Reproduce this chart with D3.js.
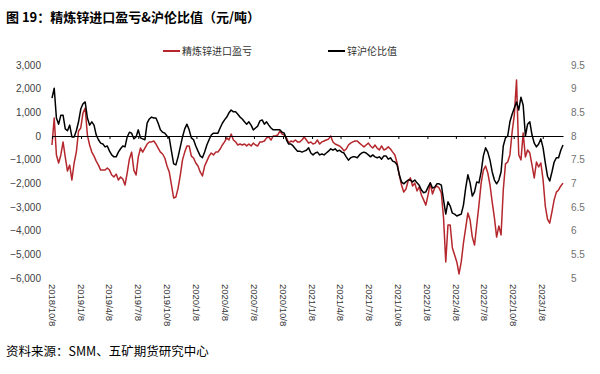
<!DOCTYPE html>
<meta charset="utf-8">
<style>
body { margin: 0; background: #fff; }
svg text { font-family: "Liberation Sans", Arial, sans-serif; }
.cjk { font-family: "Noto Sans CJK SC", sans-serif; }
</style>
<svg width="600" height="374"></svg>
<script src="https://cdn.jsdelivr.net/npm/d3@7"></script>
<script>

// weekly observations starting 2018/10/8
var startDate = "2018-10-08";

// 精炼锌进口盈亏 (元/吨)
var importPnl = [
  -380, 760, -800, -1140, -800, -250, -890, -1480, -1230, -1860,
  -1140, -680, 210, 340, 970, 1180, 40, -380, -680, -850,
  -1060, -1230, -1440, -1440, -1440, -1350, -1440, -1650, -1730, -1610,
  -1860, -1730, -1820, -2070, -1560, -970, -680, -1440, -1650, -890,
  -510, -680, -510, -340, -250, -250, -210, -340, -510, -680,
  -760, -930, -1270, -1520, -2070, -2620, -2580, -2200, -1650, -1010,
  -680, -420, -420, -850, -930, -1140, -1270, -1520, -1690, -1270,
  -1060, -850, -720, -800, -680, -680, -550, -380, -250, -80,
  -170, 80, -170, -250, -380, -340, -380, -340, -420, -340,
  -420, -300, -380, -420, -250, -250, -210, -80, -40, -170,
  0, 0, 40, 210, 80, 40, -80, -300, -210, -250,
  -170, -250, -250, -170, -40, -170, -300, -250, -340, -300,
  -170, -340, -250, -210, -170, -130, 0, -250, -340, -380,
  -420, -510, -630, -550, -380, -300, -250, -210, -210, -300,
  -380, -460, -380, -300, -420, -510, -380, -510, -590, -420,
  -590, -550, -460, -550, -680, -800, -1140, -1650, -2070, -2370,
  -2240, -1900, -1770, -2110, -1990, -2320, -2150, -2490, -2700, -2920,
  -2490, -1990, -2450, -2200, -2110, -2200, -2410, -3460, -5320, -3760,
  -3760, -4730, -5030, -5320, -5830, -5320, -4520, -3890, -3250, -3550,
  -4270, -4610, -3760, -2920, -1990, -1440, -1270, -1560, -2070, -2790,
  -3460, -4270, -3800, -4180, -2280, -1180, -1100, -800, 170, 890,
  2370, -800, -1010, 130, -890, -590, -720, -1230, -1770, -1100,
  -1310, -1140, -1860, -2960, -3510, -3680, -3210, -2700, -2370, -2280,
  -2110, -1990
];

// 锌沪伦比值
var ratio = [
  8.80, 9.01, 8.38, 8.25, 8.44, 8.44, 8.15, 8.11, 8.23, 7.98,
  7.98, 8.11, 8.30, 8.57, 8.68, 8.72, 8.38, 8.23, 8.30, 8.23,
  8.02, 7.92, 7.85, 7.83, 7.77, 7.79, 7.68, 7.60, 7.56, 7.56,
  7.66, 7.73, 7.79, 7.77, 7.98, 8.08, 8.06, 7.94, 7.98, 8.13,
  7.96, 7.94, 7.92, 8.27, 8.36, 8.40, 8.38, 8.38, 8.27, 8.13,
  8.08, 8.06, 8.00, 7.96, 7.68, 7.41, 7.39, 7.56, 7.77, 7.98,
  8.15, 8.25, 8.13, 7.96, 7.92, 7.79, 7.68, 7.58, 7.54, 7.66,
  7.81, 7.92, 8.02, 8.06, 8.06, 8.06, 8.17, 8.27, 8.34, 8.40,
  8.49, 8.55, 8.51, 8.51, 8.46, 8.40, 8.36, 8.30, 8.25, 8.30,
  8.23, 8.13, 8.17, 8.21, 8.32, 8.34, 8.25, 8.30, 8.23, 8.17,
  8.13, 8.13, 8.13, 8.13, 8.08, 8.06, 7.92, 7.83, 7.83, 7.79,
  7.73, 7.68, 7.68, 7.66, 7.68, 7.70, 7.75, 7.64, 7.60, 7.64,
  7.66, 7.60, 7.62, 7.60, 7.64, 7.68, 7.73, 7.70, 7.73, 7.68,
  7.70, 7.66, 7.64, 7.56, 7.49, 7.54, 7.56, 7.56, 7.54, 7.60,
  7.64, 7.66, 7.64, 7.60, 7.56, 7.60, 7.56, 7.54, 7.56, 7.51,
  7.58, 7.58, 7.51, 7.54, 7.47, 7.45, 7.39, 7.18, 7.03, 6.99,
  7.03, 7.07, 7.07, 7.03, 7.07, 7.01, 6.96, 6.86, 6.80, 6.82,
  6.92, 7.01, 6.90, 6.92, 6.99, 6.99, 6.96, 6.65, 6.35, 6.61,
  6.52, 6.37, 6.35, 6.31, 6.33, 6.35, 6.54, 6.90, 7.18, 7.01,
  6.73, 6.82, 7.03, 7.01, 7.24, 7.58, 7.75, 7.66, 7.49, 7.24,
  7.07, 6.99, 7.07, 7.24, 7.79, 7.96, 8.00, 8.30, 8.46, 8.59,
  8.72, 8.55, 8.82, 8.65, 8.00, 8.25, 8.30, 8.02, 7.85, 7.77,
  7.83, 7.94, 7.75, 7.43, 7.15, 7.05, 7.24, 7.45, 7.54, 7.54,
  7.70, 7.81
];

var tickLabels = ["2018/10/8", "2019/1/8", "2019/4/8", "2019/7/8", "2019/10/8",
  "2020/1/8", "2020/4/8", "2020/7/8", "2020/10/8", "2021/1/8", "2021/4/8",
  "2021/7/8", "2021/10/8", "2022/1/8", "2022/4/8", "2022/7/8", "2022/10/8", "2023/1/8"];

var leftTicks = [3000, 2000, 1000, 0, -1000, -2000, -3000, -4000, -5000, -6000];
var rightTicks = [9.5, 9, 8.5, 8, 7.5, 7, 6.5, 6, 5.5, 5];

var svg = d3.select("svg");
var parseIso = d3.timeParse("%Y-%m-%d"),
    parseTick = d3.timeParse("%Y/%m/%d");

var start = parseIso(startDate);
var dates = importPnl.map(function(d, i) { return d3.timeDay.offset(start, 7 * i); });

var x = d3.scaleTime()
    .domain([start, dates[dates.length - 1]])
    .range([52, 563]);
var yL = d3.scaleLinear().domain([-6000, 3000]).range([278, 65]);
var yR = d3.scaleLinear().domain([5, 9.5]).range([278, 65]);

// title
svg.append("text")
    .attr("class", "cjk")
    .attr("x", 6).attr("y", 22)
    .attr("font-size", 13).attr("font-weight", "bold")
    .attr("fill", "#000")
    .text("图 19：精炼锌进口盈亏&沪伦比值（元/吨）");

// legend
var legend = [
  {name: "精炼锌进口盈亏", color: "#b5272d", x: 163},
  {name: "锌沪伦比值", color: "#000", x: 328}
];
legend.forEach(function(l) {
  svg.append("line")
      .attr("x1", l.x).attr("x2", l.x + 17)
      .attr("y1", 51).attr("y2", 51)
      .attr("stroke", l.color).attr("stroke-width", 2);
  svg.append("text")
      .attr("class", "cjk")
      .attr("x", l.x + 19).attr("y", 54.5)
      .attr("font-size", 10).attr("fill", "#333")
      .text(l.name);
});

// left axis labels
var fmt = d3.format(",");
svg.append("g")
    .attr("transform", "translate(43,0)")
    .call(d3.axisLeft(yL).tickValues(leftTicks).tickSize(0).tickPadding(2).tickFormat(fmt))
    .call(function(g) { g.select(".domain").remove(); })
    .selectAll("text")
      .attr("font-size", 10).attr("fill", "#404040")
      .attr("font-family", "Liberation Sans, Arial, sans-serif");

// right axis labels
svg.append("g")
    .attr("transform", "translate(569,0)")
    .call(d3.axisRight(yR).tickValues(rightTicks).tickSize(0).tickPadding(2).tickFormat(d3.format("")))
    .call(function(g) { g.select(".domain").remove(); })
    .selectAll("text")
      .attr("font-size", 10).attr("fill", "#707070")
      .attr("font-family", "Liberation Sans, Arial, sans-serif");

// lines
var redLine = d3.line()
    .x(function(d, i) { return x(dates[i]); })
    .y(function(d) { return yL(d); });
var blackLine = d3.line()
    .x(function(d, i) { return x(dates[i]); })
    .y(function(d) { return yR(d); });

svg.append("path")
    .datum(importPnl)
    .attr("fill", "none")
    .attr("stroke", "#b5272d")
    .attr("stroke-width", 1.5)
    .attr("stroke-linejoin", "round")
    .attr("d", redLine);

svg.append("path")
    .datum(ratio)
    .attr("fill", "none")
    .attr("stroke", "#000")
    .attr("stroke-width", 1.5)
    .attr("stroke-linejoin", "round")
    .attr("d", blackLine);

// zero line with ticks
var tickDates = tickLabels.map(parseTick);
svg.append("g")
    .attr("transform", "translate(0," + yL(0) + ")")
    .call(d3.axisBottom(x).tickValues(tickDates).tickSize(3).tickSizeOuter(0).tickFormat(""))
    .call(function(g) {
      g.select(".domain").attr("stroke", "#000").attr("stroke-width", 1.2);
      g.selectAll(".tick line").attr("stroke", "#000");
    });

// rotated date labels
svg.append("g")
  .selectAll("text")
  .data(tickDates)
  .enter().append("text")
    .attr("transform", function(d) { return "translate(" + x(d) + ",284) rotate(90)"; })
    .attr("dy", "0.35em")
    .attr("font-size", 9.5)
    .attr("fill", "#333")
    .text(function(d, i) { return tickLabels[i]; });

// source
svg.append("text")
    .attr("class", "cjk")
    .attr("x", 6).attr("y", 356)
    .attr("font-size", 12.5)
    .attr("fill", "#000")
    .text("资料来源：SMM、五矿期货研究中心");

</script>
